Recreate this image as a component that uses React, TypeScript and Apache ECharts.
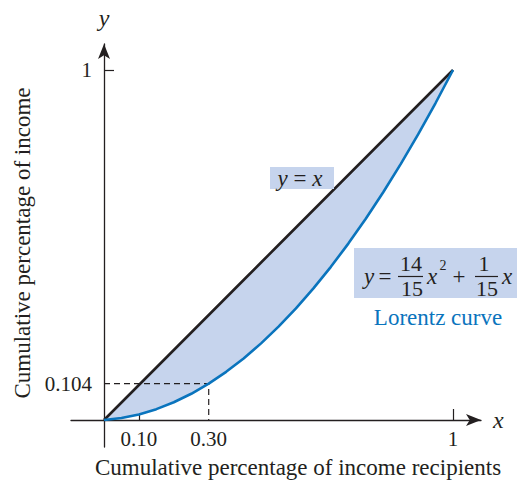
import React, { useEffect, useRef } from "react";
import * as echarts from "echarts";

const X_VALUES = [0, 0.05, 0.1, 0.15, 0.2, 0.25, 0.3, 0.35, 0.4, 0.45, 0.5, 0.55, 0.6, 0.65, 0.7, 0.75, 0.8, 0.85, 0.9, 0.95, 1];
const LORENTZ = [0, 0.0057, 0.016, 0.031, 0.0507, 0.075, 0.104, 0.1377, 0.176, 0.219, 0.2667, 0.319, 0.376, 0.4377, 0.504, 0.575, 0.6507, 0.731, 0.816, 0.9057, 1];
const EQUALITY = [0, 0.05, 0.1, 0.15, 0.2, 0.25, 0.3, 0.35, 0.4, 0.45, 0.5, 0.55, 0.6, 0.65, 0.7, 0.75, 0.8, 0.85, 0.9, 0.95, 1];
const X_LABEL_VALUES = [0.1, 0.3, 1];
const X_LABEL_TEXT = ["0.10", "0.30", "1"];
const X_TICK_VALUES = [0.1, 1];
const Y_LABEL_VALUES = [0.104, 1];
const Y_LABEL_TEXT = ["0.104", "1"];
const Y_TICK_VALUES = [1];
const GUIDE_POINT = [0.3, 0.104];

const FONT = "'Liberation Serif', 'Times New Roman', serif";
const INK = "#231f20";
const BLUE = "#0a74bd";
const FILL = "#c6d4ed";

export default function App() {
  const ref = useRef<HTMLDivElement>(null);
  useEffect(() => {
    if (!ref.current) return;
    const chart = echarts.init(ref.current, null, { renderer: "svg" });
    const lorentz = X_VALUES.map((x, i) => [x, LORENTZ[i]]);
    const eq = X_VALUES.map((x, i) => [x, EQUALITY[i]]);
    const fmtX = (v: number) => {
      const i = X_LABEL_VALUES.findIndex((t) => Math.abs(t - v) < 1e-9);
      return i >= 0 ? X_LABEL_TEXT[i] : "";
    };
    const fmtY = (v: number) => {
      const i = Y_LABEL_VALUES.findIndex((t) => Math.abs(t - v) < 1e-9);
      return i >= 0 ? Y_LABEL_TEXT[i] : "";
    };
    const txt = (x: number, y: number, text: string, extra: any = {}) => ({
      type: "text",
      x,
      y,
      z: 100,
      style: {
        text,
        fontFamily: FONT,
        fontSize: 23,
        fill: INK,
        align: "center",
        verticalAlign: "middle",
        ...extra,
      },
    });
    chart.setOption({
      animation: false,
      grid: { left: 71, right: 36, top: 44, bottom: 33, containLabel: false },
      xAxis: {
        type: "value",
        min: -0.0946,
        max: 1.0802,
        name: "x",
        nameLocation: "end",
        nameGap: 12,
        nameTextStyle: { fontFamily: FONT, fontSize: 24, fontStyle: "italic", color: INK, verticalAlign: "middle" },
        axisLine: {
          onZero: true,
          lineStyle: { color: INK, width: 1.3 },
          symbol: ["none", "arrow"],
          symbolSize: [9, 15],
        },
        axisTick: { show: true, inside: true, length: 11, customValues: X_TICK_VALUES, lineStyle: { color: INK, width: 1.2 } },
        axisLabel: { customValues: X_LABEL_VALUES, formatter: fmtX, fontFamily: FONT, fontSize: 21, color: INK, margin: -19 },
        splitLine: { show: false },
      },
      yAxis: {
        type: "value",
        min: -0.0771,
        max: 1.0743,
        name: "y",
        nameLocation: "end",
        nameGap: 14,
        nameTextStyle: { fontFamily: FONT, fontSize: 24, fontStyle: "italic", color: INK },
        axisLine: {
          onZero: true,
          lineStyle: { color: INK, width: 1.3 },
          symbol: ["none", "arrow"],
          symbolSize: [9, 15],
        },
        axisTick: { show: true, inside: true, length: 10, customValues: Y_TICK_VALUES, lineStyle: { color: INK, width: 1.2 } },
        axisLabel: { customValues: Y_LABEL_VALUES, formatter: fmtY, fontFamily: FONT, fontSize: 21, color: INK, margin: -21 },
        splitLine: { show: false },
      },
      series: [
        {
          type: "custom",
          coordinateSystem: "cartesian2d",
          data: [[0, 0]],
          silent: true,
          z: 1,
          renderItem: (_params: any, api: any) => {
            const top = eq.map((p) => api.coord(p));
            const bottom = lorentz.slice().reverse().map((p) => api.coord(p));
            return {
              type: "polygon",
              shape: { points: top.concat(bottom) },
              style: { fill: FILL, stroke: "none" },
            };
          },
        },
        {
          type: "line",
          data: [[0, GUIDE_POINT[1]], GUIDE_POINT, [GUIDE_POINT[0], 0]],
          symbol: "none",
          lineStyle: { color: INK, width: 1.2, type: [6, 4] },
          z: 2,
        },
        {
          type: "line",
          data: eq,
          symbol: "none",
          lineStyle: { color: INK, width: 2.6 },
          z: 3,
        },
        {
          type: "line",
          data: lorentz,
          symbol: "none",
          lineStyle: { color: BLUE, width: 2.6 },
          z: 3,
        },
      ],
      graphic: [
        {
          type: "text",
          x: 22,
          y: 243,
          rotation: Math.PI / 2,
          z: 100,
          style: { text: "Cumulative percentage of income", fontFamily: FONT, fontSize: 23, fill: INK, align: "center", verticalAlign: "middle" },
        },
        txt(298, 467, "Cumulative percentage of income recipients"),
        { type: "rect", z: 99, shape: { x: 270, y: 167, width: 64, height: 22 }, style: { fill: FILL } },
        {
          type: "text",
          x: 300,
          y: 178,
          z: 100,
          style: {
            text: "{i|y} = {i|x}",
            fontFamily: FONT,
            fontSize: 23,
            fill: INK,
            align: "center",
            verticalAlign: "middle",
            rich: { i: { fontStyle: "italic", fontFamily: FONT, fontSize: 23, fill: INK } },
          },
        },
        { type: "rect", z: 99, shape: { x: 354, y: 248, width: 163, height: 50 }, style: { fill: FILL } },
        txt(369, 276, "y", { fontStyle: "italic" }),
        txt(385, 276, "="),
        txt(411, 263, "14", { fontSize: 22 }),
        { type: "line", z: 100, shape: { x1: 398, y1: 276.5, x2: 423, y2: 276.5 }, style: { stroke: INK, lineWidth: 1.2 } },
        txt(412, 288, "15", { fontSize: 22 }),
        txt(432, 276, "x", { fontStyle: "italic" }),
        txt(443, 265, "2", { fontSize: 14 }),
        txt(459, 276, "+"),
        txt(484, 263, "1", { fontSize: 22 }),
        { type: "line", z: 100, shape: { x1: 475, y1: 276.5, x2: 498, y2: 276.5 }, style: { stroke: INK, lineWidth: 1.2 } },
        txt(487, 288, "15", { fontSize: 22 }),
        txt(507, 276, "x", { fontStyle: "italic" }),
        txt(438, 317, "Lorentz curve", { fill: BLUE }),
      ],
    });
    return () => chart.dispose();
  }, []);
  return <div ref={ref} style={{ width: 517, height: 480, position: "absolute", left: 0, top: 0 }} />;
}
